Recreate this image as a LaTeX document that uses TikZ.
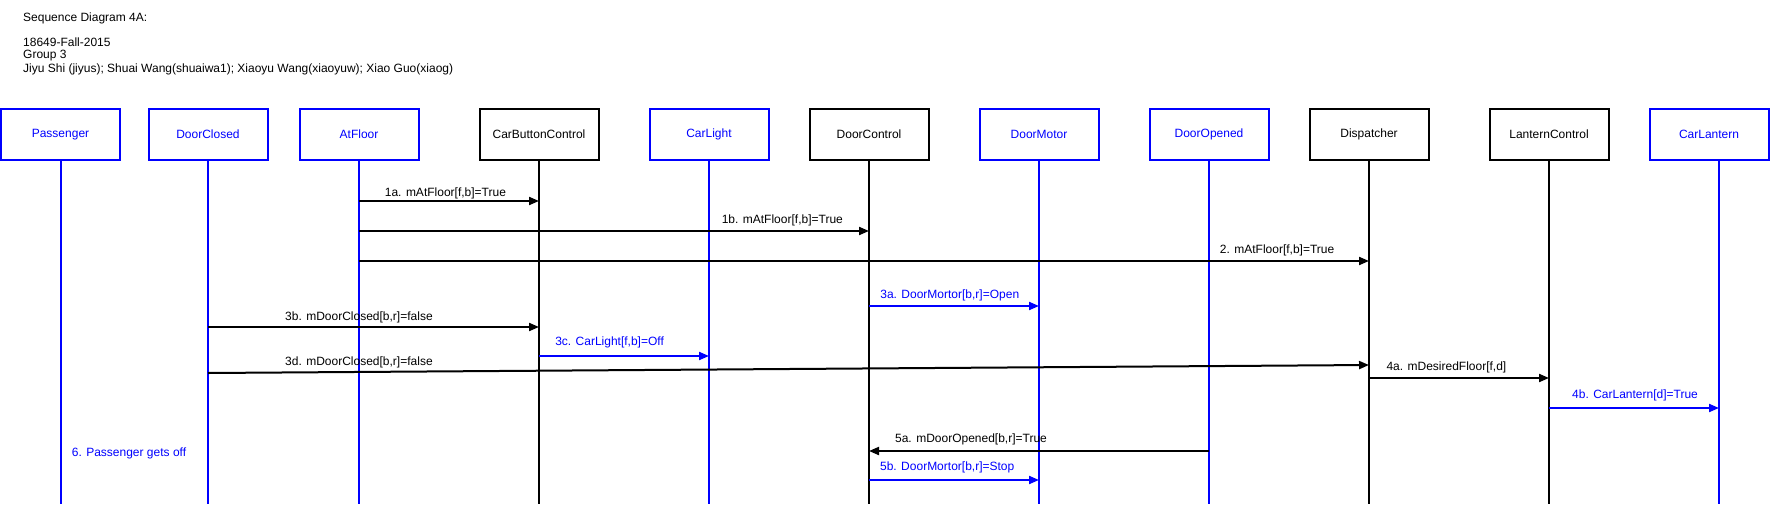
\documentclass[tikz,border=0pt]{standalone}
\usepackage{fontspec}
\setmainfont{Liberation Sans}
\usetikzlibrary{arrows.meta}
\definecolor{sdblue}{RGB}{0,0,255}

\begin{document}
\begin{tikzpicture}[x=1pt, y=-1pt,
  box/.style={rectangle, minimum width=119pt, minimum height=51pt, line width=2pt, text centered, font=\fontsize{12}{14}\selectfont},
  bluebox/.style={box, draw=sdblue, text=sdblue},
  blackbox/.style={box, draw=black, text=black},
  lifeline/.style={line width=2pt},
  msg/.style={line width=2pt, -{Triangle[length=10pt,width=8pt]}},
  msglabel/.style={font=\fontsize{12}{14}\selectfont, inner sep=0pt},
  heading/.style={anchor=west, inner sep=0pt, font=\fontsize{12}{14}\selectfont}]
\useasboundingbox (0,0) rectangle (1771,504);

% heading text
\node (title) [heading] at (23,18) {Sequence Diagram 4A:};
\node (course) [heading] at (23,42) {18649-Fall-2015};
\node (group) [heading] at (23,56) {Group 3};
\node (members) [heading] at (23,69) {Jiyu Shi (jiyus); Shuai Wang(shuaiwa1); Xiaoyu Wang(xiaoyuw); Xiao Guo(xiaog)};

% participants
\node (passenger) [bluebox] at (60.5,134.5) {Passenger};
\node (doorclosed) [bluebox] at (208,134.5) {DoorClosed};
\node (atfloor) [bluebox] at (359,134.5) {AtFloor};
\node (cbc) [blackbox] at (539,134.5) {CarButtonControl};
\node (carlight) [bluebox] at (709,134.5) {CarLight};
\node (doorcontrol) [blackbox] at (869,134.5) {DoorControl};
\node (doormotor) [bluebox] at (1039,134.5) {DoorMotor};
\node (dooropened) [bluebox] at (1209,134.5) {DoorOpened};
\node (dispatcher) [blackbox] at (1369,134.5) {Dispatcher};
\node (lanterncontrol) [blackbox] at (1549,134.5) {LanternControl};
\node (carlantern) [bluebox] at (1709,134.5) {CarLantern};
\coordinate (carlanternline) at (carlantern.south -| 1719,0);

% lifelines
\draw[lifeline, sdblue] (passenger.south) -- (passenger |- 0,504);
\draw[lifeline, sdblue] (doorclosed.south) -- (doorclosed |- 0,504);
\draw[lifeline, sdblue] (atfloor.south) -- (atfloor |- 0,504);
\draw[lifeline] (cbc.south) -- (cbc |- 0,504);
\draw[lifeline, sdblue] (carlight.south) -- (carlight |- 0,504);
\draw[lifeline] (doorcontrol.south) -- (doorcontrol |- 0,504);
\draw[lifeline, sdblue] (doormotor.south) -- (doormotor |- 0,504);
\draw[lifeline, sdblue] (dooropened.south) -- (dooropened |- 0,504);
\draw[lifeline] (dispatcher.south) -- (dispatcher |- 0,504);
\draw[lifeline] (lanterncontrol.south) -- (lanterncontrol |- 0,504);
\draw[lifeline, sdblue] (carlanternline) -- (carlanternline |- 0,504);

% messages
\draw[msg] (atfloor |- 0,201) -- (cbc |- 0,201) node[msglabel, pos=.48, yshift=8pt] {1a. mAtFloor[f,b]=True};
\draw[msg] (atfloor |- 0,231) -- (doorcontrol |- 0,231) node[msglabel, pos=.83, yshift=11pt] {1b. mAtFloor[f,b]=True};
\draw[msg] (atfloor |- 0,261) -- (dispatcher |- 0,261) node[msglabel, pos=.909, yshift=11pt] {2. mAtFloor[f,b]=True};
\draw[msg, sdblue] (doorcontrol |- 0,306) -- (doormotor |- 0,306) node[msglabel, pos=.475, yshift=11pt] {3a. DoorMortor[b,r]=Open};
\draw[msg] (doorclosed |- 0,327) -- (cbc |- 0,327) node[msglabel, pos=.456, yshift=10pt] {3b. mDoorClosed[b,r]=false};
\draw[msg, sdblue] (cbc |- 0,356) -- (carlight |- 0,356) node[msglabel, pos=.415, yshift=14pt] {3c. CarLight[f,b]=Off};
\draw[msg] (doorclosed |- 0,373) -- (dispatcher |- 0,365) node[msglabel, pos=.13, yshift=10pt] {3d. mDoorClosed[b,r]=false};
\draw[msg] (dispatcher |- 0,378) -- (lanterncontrol |- 0,378) node[msglabel, pos=.43, yshift=11pt] {4a. mDesiredFloor[f,d]};
\draw[msg, sdblue] (lanterncontrol |- 0,408) -- (carlanternline |- 0,408) node[msglabel, pos=.506, yshift=13pt] {4b. CarLantern[d]=True};
\draw[msg] (dooropened |- 0,451) -- (doorcontrol |- 0,451) node[msglabel, pos=.70, yshift=12pt] {5a. mDoorOpened[b,r]=True};
\draw[msg, sdblue] (doorcontrol |- 0,480) -- (doormotor |- 0,480) node[msglabel, pos=.46, yshift=13pt] {5b. DoorMortor[b,r]=Stop};

\node (getsoff) [msglabel, text=sdblue] at (129,453) {6. Passenger gets off};

\end{tikzpicture}
\end{document}
